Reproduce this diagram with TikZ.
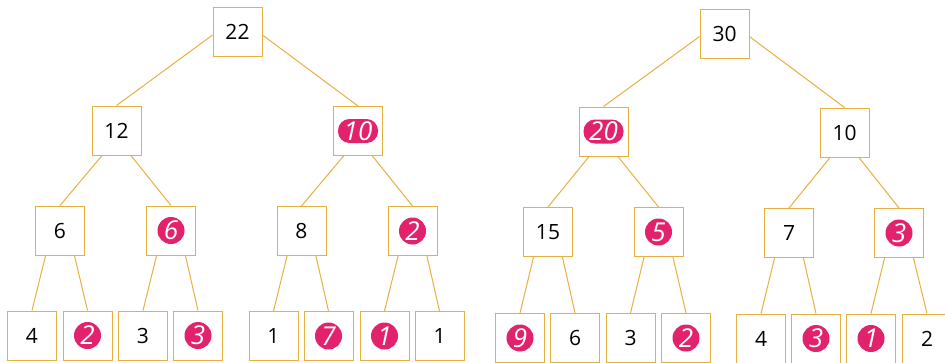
\documentclass[tikz,border=0pt]{standalone}
\usepackage{fontspec}
\setmainfont{Open Sans}
\definecolor{boxline}{HTML}{E6B040}
\definecolor{hot}{HTML}{E2226C}
\tikzset{
  cell/.style={draw=boxline, line width=1pt, fill=white, minimum size=49pt,
    inner sep=0pt, font=\fontsize{21}{21}\selectfont},
  picked/.style={cell, text=white, font=\fontsize{26}{26}\selectfont\itshape,
    path picture={\fill[hot] (path picture bounding box.center) circle (13.5pt);}},
  picked wide/.style={cell, text=white, font=\fontsize{26}{26}\selectfont\itshape,
    path picture={\fill[hot, rounded corners=11.5pt]
      ([shift={(-20pt,-12pt)}]path picture bounding box.center) rectangle
      ([shift={(20pt,12pt)}]path picture bounding box.center);}},
  branch/.style={draw=boxline, line width=1pt}
}
\begin{document}
\begin{tikzpicture}[x=1pt, y=-1pt]
\useasboundingbox (0,0) rectangle (945,362);
\clip (0,0) rectangle (945,362);
% left tree
\node[cell](l1) at (237.5,32){22};
\node[cell](l2) at (116.5,130.5){12};
\node[picked wide](l3) at (358,131){10};
\node[cell](l4) at (60,230.5){6};
\node[picked](l5) at (171,230.5){6};
\node[cell](l6) at (301.5,231){8};
\node[picked](l7) at (412.5,231){2};
\node[cell](l8) at (32,335.5){4};
\node[picked](l9) at (87.5,335.5){2};
\node[cell](l10) at (143,335.5){3};
\node[picked](l11) at (198,335.5){3};
\node[cell](l12) at (273.5,336){1};
\node[picked](l13) at (328.5,336){7};
\node[picked](l14) at (384.5,336){1};
\node[cell](l15) at (439.5,336){1};
\draw[branch](l1.187) -- (l2.north);
\draw[branch](l1.-7) -- (l3.north);
\draw[branch](l2.-120) -- (l4.north);
\draw[branch](l2.-60) -- (l5.north);
\draw[branch](l3.-120) -- (l6.north);
\draw[branch](l3.-60) -- (l7.north);
\draw[branch](l4.-120) -- (l8.north);
\draw[branch](l4.-60) -- (l9.north);
\draw[branch](l5.-120) -- (l10.north);
\draw[branch](l5.-60) -- (l11.north);
\draw[branch](l6.-120) -- (l12.north);
\draw[branch](l6.-60) -- (l13.north);
\draw[branch](l7.-120) -- (l14.north);
\draw[branch](l7.-60) -- (l15.north);
% right tree
\node[cell](r1) at (724.5,33.5){30};
\node[picked wide](r2) at (603.5,131.5){20};
\node[cell](r3) at (844.5,132.5){10};
\node[cell](r4) at (548,232){15};
\node[picked](r5) at (658.5,232){5};
\node[cell](r6) at (789,233){7};
\node[picked](r7) at (899,233){3};
\node[picked](r8) at (520,338){9};
\node[cell](r9) at (575,338){6};
\node[cell](r10) at (630.5,338){3};
\node[picked](r11) at (686,338){2};
\node[cell](r12) at (761,338.5){4};
\node[picked](r13) at (816,338.5){3};
\node[picked](r14) at (871,338.5){1};
\node[cell](r15) at (927,338.5){2};
\draw[branch](r1.187) -- (r2.north);
\draw[branch](r1.-7) -- (r3.north);
\draw[branch](r2.-120) -- (r4.north);
\draw[branch](r2.-60) -- (r5.north);
\draw[branch](r3.-120) -- (r6.north);
\draw[branch](r3.-60) -- (r7.north);
\draw[branch](r4.-120) -- (r8.north);
\draw[branch](r4.-60) -- (r9.north);
\draw[branch](r5.-120) -- (r10.north);
\draw[branch](r5.-60) -- (r11.north);
\draw[branch](r6.-120) -- (r12.north);
\draw[branch](r6.-60) -- (r13.north);
\draw[branch](r7.-120) -- (r14.north);
\draw[branch](r7.-60) -- (r15.north);
\end{tikzpicture}
\end{document}
